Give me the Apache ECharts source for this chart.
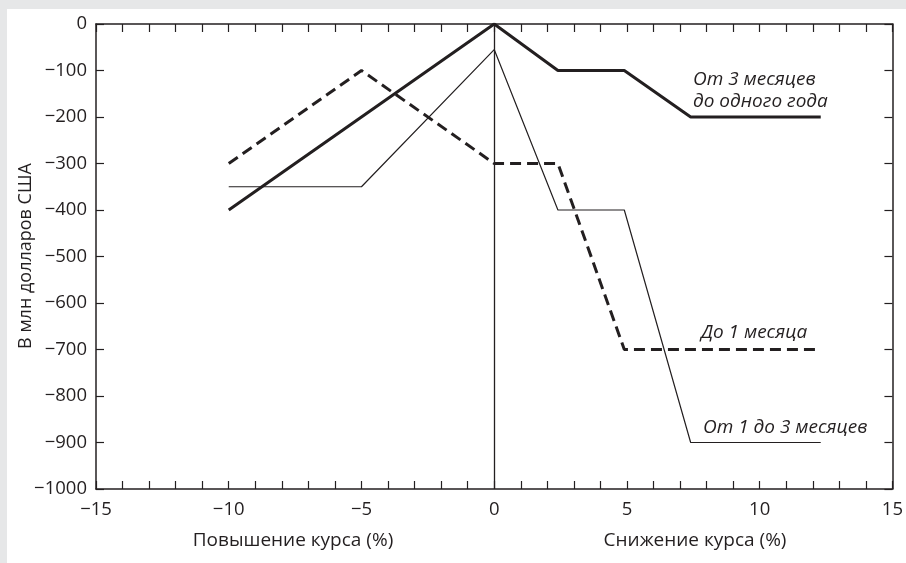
<!DOCTYPE html>
<html>
<head>
<meta charset="utf-8">
<script src="https://cdn.jsdelivr.net/npm/echarts@6/dist/echarts.min.js"></script>
<style>
html,body{margin:0;padding:0;background:#e6e7e8;width:906px;height:563px;overflow:hidden;}
#panel{position:absolute;left:7px;top:9px;width:899px;height:554px;background:#fff;}
#chart{position:absolute;left:0;top:0;width:906px;height:563px;}
</style>
</head>
<body>
<div id="panel"></div>
<div id="chart"></div>
<script>
// Data
const xUpTo1Month = [-10, -5, 0, 2.4, 4.9, 12.3];
const yUpTo1Month = [-300, -100, -300, -300, -700, -700];

const x1to3Months = [-10, -5, 0, 2.4, 4.9, 7.4, 12.3];
const y1to3Months = [-350, -350, -55, -400, -400, -900, -900];

const x3to12Months = [-10, 0, 2.4, 4.9, 7.4, 12.3];
const y3to12Months = [-400, 0, -100, -100, -200, -200];

const seriesNames = ['До 1 месяца', 'От 1 до 3 месяцев', 'От 3 месяцев\nдо одного года'];
const xAxisTitles = ['Повышение курса (%)', 'Снижение курса (%)'];
const yAxisTitle = 'В млн долларов США';

const xMin = -15, xMax = 15, xStep = 1, xLabelStep = 5;
const yMin = -1000, yMax = 0, yStep = 100;

function pairs(xs, ys){ return xs.map((x,i)=>[x, ys[i]]); }
function fmt(v){ return v < 0 ? '\u2212' + Math.abs(v) : String(v); }

const INK = '#231f20';
const FONT = '"Open Sans", "Noto Sans", sans-serif';

const chart = echarts.init(document.getElementById('chart'), null, {renderer:'canvas'});

const axisCommon = {
  axisLine:{show:true, onZero:false, lineStyle:{color:INK, width:1.5}},
  axisTick:{show:true, inside:true, length:8, lineStyle:{color:INK, width:1.2}},
  splitLine:{show:false},
};

const option = {
  animation:false,
  backgroundColor:'transparent',
  grid:{left:96, top:24, right:11, bottom:74, containLabel:false},
  xAxis:[
    Object.assign({
      type:'value', min:xMin, max:xMax, interval:xStep, position:'bottom',
      axisLabel:{show:true, color:INK, fontFamily:FONT, fontSize:18.5, margin:11,
        formatter:(v)=> (Math.round(v) % xLabelStep === 0 ? fmt(v) : '')}
    }, axisCommon),
    Object.assign({
      type:'value', min:xMin, max:xMax, interval:xStep, position:'top',
      axisLabel:{show:false}
    }, axisCommon)
  ],
  yAxis:[
    Object.assign({
      type:'value', min:yMin, max:yMax, interval:yStep, position:'left',
      axisLabel:{show:true, color:INK, fontFamily:FONT, fontSize:18.5, margin:9, formatter:fmt}
    }, axisCommon),
    Object.assign({
      type:'value', min:yMin, max:yMax, interval:yStep, position:'right',
      axisLabel:{show:false}
    }, axisCommon)
  ],
  series:[
    {
      name:seriesNames[0], type:'line', data:pairs(xUpTo1Month, yUpTo1Month),
      showSymbol:false, symbol:'none',
      lineStyle:{color:INK, width:3, type:[11,6], cap:'butt'},
      markLine:{silent:true, symbol:'none', label:{show:false},
        lineStyle:{color:INK, width:1.3, type:'solid'}, data:[{xAxis:0}]}
    },
    {
      name:seriesNames[1], type:'line', data:pairs(x1to3Months, y1to3Months),
      showSymbol:false, symbol:'none',
      lineStyle:{color:INK, width:1.2}
    },
    {
      name:seriesNames[2], type:'line', data:pairs(x3to12Months, y3to12Months),
      showSymbol:false, symbol:'none',
      lineStyle:{color:INK, width:3}
    }
  ],
  graphic:[
    {type:'text', x:693, y:91, style:{text:seriesNames[2], fill:INK, font:'italic 19px ' + FONT, lineHeight:22, verticalAlign:'middle'}},
    {type:'text', x:701, y:333, style:{text:seriesNames[0], fill:INK, font:'italic 19px ' + FONT, verticalAlign:'middle'}},
    {type:'text', x:703, y:428, style:{text:seriesNames[1], fill:INK, font:'italic 19px ' + FONT, verticalAlign:'middle'}},
    {type:'text', x:293, y:541, style:{text:xAxisTitles[0], fill:INK, font:'19px ' + FONT, align:'center', verticalAlign:'middle'}},
    {type:'text', x:695, y:541, style:{text:xAxisTitles[1], fill:INK, font:'19px ' + FONT, align:'center', verticalAlign:'middle'}},
    {type:'text', x:26, y:256, rotation:Math.PI/2,
      style:{text:yAxisTitle, fill:INK, font:'18px ' + FONT, align:'center', verticalAlign:'middle'}}
  ]
};
chart.setOption(option);
</script>
</body>
</html>
